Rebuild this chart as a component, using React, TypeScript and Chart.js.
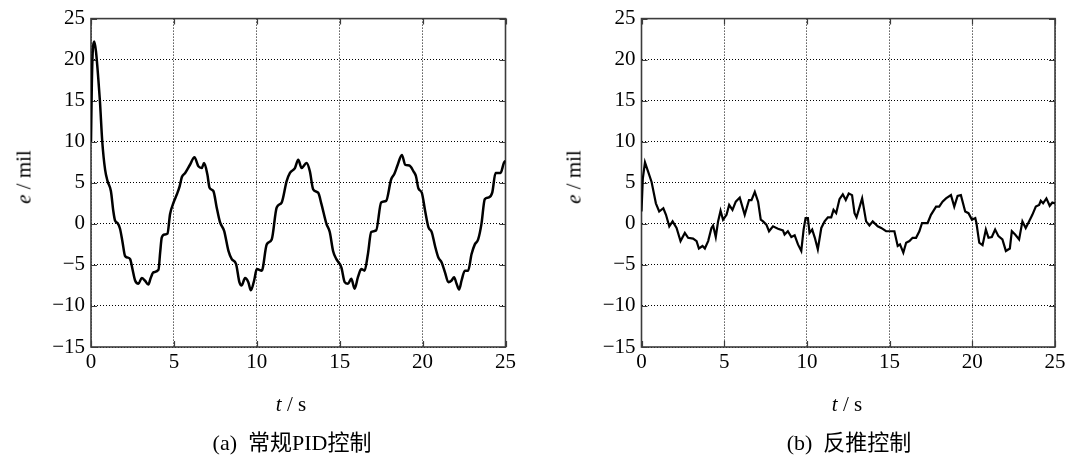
import React, { useEffect, useRef } from "react";
import { Chart, registerables } from "chart.js";

Chart.register(...registerables);

const xTicks = [0, 5, 10, 15, 20, 25];
const yTicks = [-15, -10, -5, 0, 5, 10, 15, 20, 25];

// (a) conventional PID control: time (s) and error (mil)
const pidTime = [0, 0.05, 0.12, 0.2, 0.3, 0.44, 0.54, 0.68, 0.85, 1.0,
  1.2, 1.35, 1.45, 1.6, 1.75, 1.9, 2.05, 2.2, 2.36, 2.5,
  2.66, 2.86, 3.06, 3.25, 3.46, 3.6, 3.77, 4.07, 4.17, 4.27,
  4.45, 4.61, 4.77, 4.98, 5.18, 5.35, 5.48, 5.68, 5.97, 6.24,
  6.48, 6.68, 6.82, 7.02, 7.15, 7.38, 7.58, 7.78, 8.03, 8.29,
  8.49, 8.75, 8.95, 9.09, 9.29, 9.49, 9.64, 9.84, 10.0, 10.3,
  10.6, 10.9, 11.2, 11.5, 11.8, 12.0, 12.3, 12.5, 12.7, 13.0,
  13.2, 13.4, 13.7, 13.9, 14.2, 14.4, 14.6, 14.8, 15.1, 15.3,
  15.5, 15.7, 15.9, 16.1, 16.3, 16.5, 16.7, 16.9, 17.2, 17.5,
  17.8, 18.1, 18.3, 18.5, 18.75, 18.95, 19.2, 19.45, 19.6, 19.75,
  19.95, 20.15, 20.35, 20.55, 20.75, 20.95, 21.15, 21.35, 21.55, 21.75,
  21.9, 22.05, 22.2, 22.35, 22.55, 22.75, 22.95, 23.15, 23.35, 23.55,
  23.75, 23.95, 24.2, 24.4, 24.7, 24.9, 25];
const pidError = [10, 17, 21.5, 22.2, 21, 17.7, 14.9, 10, 6.6, 5.2,
  4.0, 1.5, 0.4, 0.1, -0.6, -2.2, -3.9, -4.1, -4.3, -5.5,
  -6.9, -7.3, -6.6, -6.9, -7.4, -6.6, -5.9, -5.6, -3.5, -1.65,
  -1.3, -1.2, 1.2, 2.6, 3.6, 4.6, 5.7, 6.2, 7.2, 8.1,
  7.0, 6.8, 7.4, 6.0, 4.4, 4.0, 2.0, 0.2, -0.85, -3.3,
  -4.3, -4.9, -7.1, -7.5, -6.6, -7.1, -8.1, -6.9, -5.5, -5.7,
  -2.5, -1.9, 2.0, 2.6, 5.2, 6.2, 6.8, 7.8, 6.8, 7.4,
  6.4, 4.2, 3.8, 2.4, 0.0, -1.0, -3.3, -4.3, -5.3, -7.1,
  -7.3, -6.7, -7.9, -6.5, -5.5, -5.7, -3.7, -1.0, -0.8, 2.6,
  2.8, 5.4, 6.1, 7.2, 8.4, 7.2, 7.1, 6.4, 5.8, 4.3,
  3.8, 1.6, -0.4, -1.0, -2.7, -4.1, -4.7, -5.9, -7.1, -6.9,
  -6.5, -7.3, -8.0, -6.9, -5.7, -5.7, -3.7, -2.5, -1.9, 0,
  3.0, 3.2, 3.8, 6.2, 6.2, 7.4, 7.7];

// (b) backstepping control: time (s) and error (mil)
const bsTime = [0, 0.08, 0.21, 0.41, 0.61, 0.75, 0.87, 1.07, 1.32, 1.48,
  1.68, 1.88, 2.12, 2.36, 2.62, 2.82, 3.12, 3.33, 3.47, 3.69,
  3.83, 4.03, 4.23, 4.33, 4.49, 4.63, 4.78, 4.93, 5.14, 5.3,
  5.5, 5.7, 5.94, 6.24, 6.5, 6.65, 6.85, 7.05, 7.21, 7.35,
  7.55, 7.71, 7.95, 8.25, 8.55, 8.65, 8.85, 9.06, 9.26, 9.46,
  9.66, 9.8, 9.92, 10.06, 10.16, 10.32, 10.48, 10.66, 10.87, 11.07,
  11.27, 11.47, 11.61, 11.77, 11.97, 12.17, 12.35, 12.53, 12.73, 12.88,
  13.0, 13.34, 13.58, 13.78, 13.98, 14.28, 14.49, 14.79, 15.29, 15.49,
  15.63, 15.83, 16.0, 16.2, 16.39, 16.6, 16.8, 16.96, 17.3, 17.5,
  17.81, 18.0, 18.2, 18.41, 18.71, 18.91, 19.11, 19.31, 19.57, 19.77,
  19.98, 20.18, 20.25, 20.42, 20.62, 20.82, 20.98, 21.18, 21.38, 21.58,
  21.82, 22.03, 22.27, 22.39, 22.59, 22.83, 23.03, 23.23, 23.43, 23.63,
  23.84, 24.04, 24.14, 24.28, 24.48, 24.68, 24.84, 25];
const bsError = [1.5, 5.5, 7.5, 6.3, 5.1, 3.7, 2.5, 1.5, 1.9, 1.1,
  -0.3, 0.3, -0.5, -2.1, -1.1, -1.7, -1.8, -2.1, -3.0, -2.7,
  -3.0, -2.1, -0.5, -0.2, -1.6, 0.3, 1.6, 0.5, 1.1, 2.3,
  1.7, 2.7, 3.2, 1.1, 2.9, 2.9, 3.9, 2.7, 0.5, 0.3,
  -0.1, -0.9, -0.3, -0.6, -0.8, -1.3, -0.9, -1.6, -1.4, -2.5,
  -3.3, -0.7, 0.7, 0.7, -1.1, -0.7, -1.7, -3.1, -0.5, 0.3,
  0.8, 0.8, 1.7, 1.3, 3.0, 3.6, 2.9, 3.7, 3.5, 1.3,
  0.8, 3.1, 0.3, -0.2, 0.3, -0.3, -0.5, -0.9, -0.9, -2.7,
  -2.5, -3.5, -2.3, -2.1, -1.7, -1.7, -0.9, 0.1, 0.1, 1.1,
  2.1, 2.1, 2.7, 3.1, 3.5, 2.1, 3.4, 3.5, 1.5, 1.3,
  0.5, 0.7, 0.1, -2.3, -2.6, -0.7, -1.7, -1.6, -0.7, -1.5,
  -1.9, -3.3, -3.0, -0.9, -1.3, -1.9, 0.3, -0.5, 0.3, 1.1,
  2.1, 2.3, 2.8, 2.5, 3.1, 2.2, 2.6, 2.5];

const SERIF = "'Liberation Serif', 'DejaVu Serif', serif";
const CAPTION_FONT = "'Liberation Serif', 'Noto Sans CJK SC', serif";

const framePlugin = {
  id: "matlabFrame",
  beforeDatasetsDraw(chart: any) {
    const { ctx, chartArea, scales } = chart;
    const { left, right, top, bottom } = chartArea;
    const xs = scales.x;
    const ys = scales.y;
    const L = 6;
    ctx.save();
    ctx.strokeStyle = "#3c3c3c";
    ctx.lineWidth = 1.2;
    ctx.beginPath();
    xTicks.forEach((v) => {
      const px = Math.round(xs.getPixelForValue(v)) + 0.5;
      ctx.moveTo(px, bottom);
      ctx.lineTo(px, bottom - L);
      ctx.moveTo(px, top);
      ctx.lineTo(px, top + L);
    });
    yTicks.forEach((v) => {
      const py = Math.round(ys.getPixelForValue(v)) + 0.5;
      ctx.moveTo(left, py);
      ctx.lineTo(left + L, py);
      ctx.moveTo(right, py);
      ctx.lineTo(right - L, py);
    });
    ctx.stroke();
    ctx.lineWidth = 1.6;
    ctx.strokeRect(left, top, right - left, bottom - top);
    ctx.restore();
  },
};

function makeConfig(times: number[], values: number[], yWidth: number, padRight: number, smooth: boolean, lw: number): any {
  return {
    type: "line",
    data: {
      datasets: [
        {
          data: times.map((t, i) => ({ x: t, y: values[i] })),
          borderColor: "#000",
          borderWidth: lw,
          pointRadius: 0,
          fill: false,
          tension: smooth ? 0.4 : 0,
          cubicInterpolationMode: smooth ? "monotone" : "default",
        },
      ],
    },
    options: {
      responsive: false,
      animation: false,
      events: [],
      layout: { padding: { left: 0, right: padRight, top: 16.5, bottom: 79 } },
      plugins: { legend: { display: false }, tooltip: { enabled: false }, title: { display: false } },
      scales: {
        x: {
          type: "linear",
          min: 0,
          max: 25,
          afterBuildTicks: (s: any) => {
            s.ticks = xTicks.map((v) => ({ value: v }));
          },
          afterFit: (s: any) => {
            s.height = 30;
          },
          ticks: {
            color: "#000",
            font: { family: SERIF, size: 21 },
            padding: 3,
            maxRotation: 0,
            autoSkip: false,
          },
          grid: { color: "#000", lineWidth: 1, drawTicks: false },
          border: { display: false, dash: [1, 2] },
        },
        y: {
          type: "linear",
          min: -15,
          max: 25,
          afterBuildTicks: (s: any) => {
            s.ticks = yTicks.map((v) => ({ value: v }));
          },
          afterFit: (s: any) => {
            s.width = yWidth;
          },
          ticks: {
            color: "#000",
            font: { family: SERIF, size: 21 },
            padding: 6,
            autoSkip: false,
            callback: (v: any) => String(v).replace("-", "\u2212"),
          },
          grid: { color: "#000", lineWidth: 1, drawTicks: false },
          border: { display: false, dash: [1, 2] },
        },
      },
    },
    plugins: [framePlugin],
  };
}

const abs = (left: number, top: number, extra: any = {}) => ({
  position: "absolute" as const,
  left,
  top,
  transform: "translate(-50%, -50%)",
  whiteSpace: "nowrap" as const,
  color: "#000",
  lineHeight: 1,
  ...extra,
});

export default function App() {
  const c1 = useRef<HTMLCanvasElement>(null);
  const c2 = useRef<HTMLCanvasElement>(null);

  useEffect(() => {
    const ch1 = new Chart(c1.current as HTMLCanvasElement, makeConfig(pidTime, pidError, 91, 540 - 505.5, true, 2.5));
    const ch2 = new Chart(c2.current as HTMLCanvasElement, makeConfig(bsTime, bsError, 101.5, 532 - 515, false, 2.2));
    return () => {
      ch1.destroy();
      ch2.destroy();
    };
  }, []);

  const titleFont = { fontFamily: SERIF, fontSize: 21 };
  const capFont = { fontFamily: CAPTION_FONT, fontSize: 22 };

  return (
    <div style={{ position: "absolute", left: 0, top: 0, width: 1072, height: 456, background: "#fff", overflow: "hidden" }}>
      <canvas ref={c1} width={540} height={456} style={{ position: "absolute", left: 0, top: 0 }} />
      <canvas ref={c2} width={532} height={456} style={{ position: "absolute", left: 540, top: 0 }} />

      <div style={abs(24, 177, { ...titleFont, transform: "translate(-50%, -50%) rotate(-90deg)" })}>
        <i>e</i> / mil
      </div>
      <div style={abs(574, 177, { ...titleFont, transform: "translate(-50%, -50%) rotate(-90deg)" })}>
        <i>e</i> / mil
      </div>

      <div style={abs(291, 404, titleFont)}>
        <i>t</i> / s
      </div>
      <div style={abs(847, 404, titleFont)}>
        <i>t</i> / s
      </div>

      <div style={abs(292, 443, capFont)}>(a)&nbsp;&nbsp;常规PID控制</div>
      <div style={abs(849, 443, capFont)}>(b)&nbsp;&nbsp;反推控制</div>
    </div>
  );
}
